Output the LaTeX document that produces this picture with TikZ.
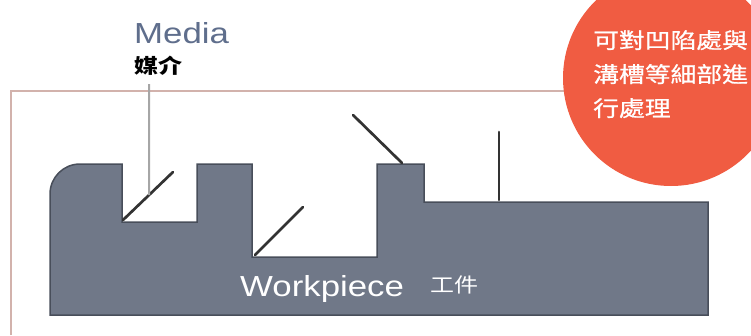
\documentclass[tikz,border=0pt]{standalone}
\usepackage{fontspec}
\setmainfont{Liberation Sans}[FakeStretch=1.2]
\newfontfamily\cjk{Noto Sans CJK TC}[FakeStretch=1.2]
\newfontfamily\cjknote{Noto Sans CJK TC}[FakeStretch=1.2, FakeBold=0.8]
\usetikzlibrary{calc}
\definecolor{mediablue}{RGB}{95,110,140}
\definecolor{partgray}{RGB}{112,120,136}
\definecolor{partedge}{RGB}{72,78,90}
\definecolor{framepink}{RGB}{210,178,172}
\definecolor{notered}{RGB}{240,92,66}

\begin{document}
\begin{tikzpicture}[
	x = 1pt,
	y = -1pt,
	tool/.style = {
		draw = black!80,
		line width = 2.7pt,
		line cap = round
	},
	leader/.style = {
		draw = black!35,
		line width = 2pt
	},
	label/.style = {
		inner sep = 0pt
	}
	]
	\useasboundingbox (0,0) rectangle (751,335);
	\draw[framepink, line width = 1.3pt] (11,335) -- (11,91) -- (751,91);
	% workpiece
	\draw[fill = partgray, draw = partedge, line width = 1.5pt]
		(50,315) [rounded corners = 30pt] -- (50,164) [sharp corners] -- (122,164)
		-- (122,222) -- (197,222) -- (197,164) -- (252,164) -- (252,257)
		-- (377,257) -- (377,164) -- (424,164) -- (424,202) -- (708,202)
		-- (708,315) -- cycle;
	% media
	\draw[tool] (123,220) coordinate (t1a) -- (173,172) coordinate (t1b);
	\draw[tool] (255,255) coordinate (t2a) -- (303,207) coordinate (t2b);
	\draw[tool] (353,115) coordinate (t3a) -- (402,163) coordinate (t3b);
	\draw[tool] (499,132) coordinate (t4a) -- (499,200) coordinate (t4b);
	\node[label, anchor = base west, text = mediablue, font = \fontsize{29}{34}\selectfont] (media) at (134,43) {Media};
	\node[label, anchor = west, font = \cjk\fontsize{20}{24}\selectfont\bfseries] (mediazh) at (134,66) {媒介};
	\coordinate (lead) at (149,84);
	\draw[leader] (lead) -- ($(t1a)!0.52!(t1b)$);
	\node[label, anchor = base west, text = white, font = \fontsize{29}{34}\selectfont] (work) at (240,296) {Workpiece};
	\node[label, anchor = west, text = white, font = \cjk\fontsize{20}{24}\selectfont] (workzh) at (430,285) {工件};
	% note
	\fill[notered] (671,78) circle[radius = 108];
	\node[label, anchor = north west, align = left, text = white, font = \cjknote\fontsize{21.5}{34}\selectfont] (note) at (593,30) {可對凹陷處與\\溝槽等細部進\\行處理};
\end{tikzpicture}
\end{document}
